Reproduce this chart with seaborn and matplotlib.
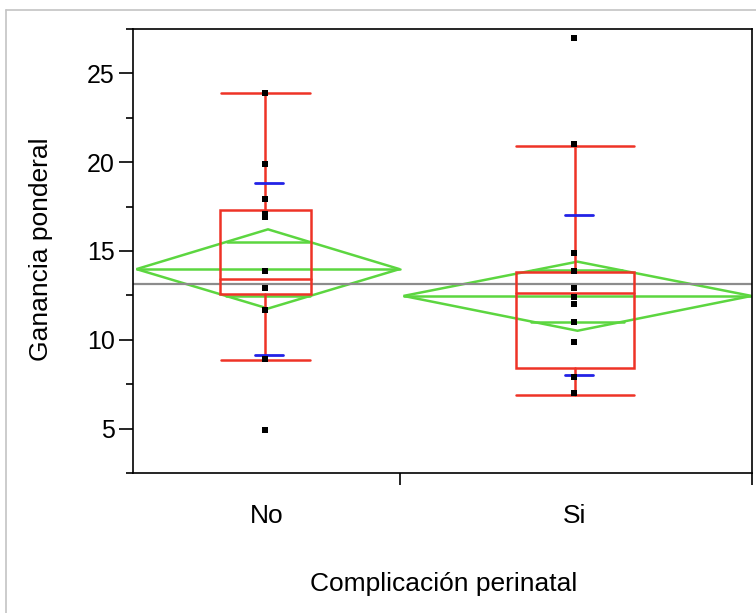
import numpy as np
import pandas as pd
import seaborn as sns
import matplotlib.pyplot as plt
from matplotlib.lines import Line2D
from matplotlib.patches import Rectangle, Polygon
from matplotlib.ticker import MultipleLocator

# ---- data -------------------------------------------------------------
groups = ["No", "Si"]
values_no = [23.9, 19.9, 17.9, 17.1, 16.9, 13.9, 12.9, 11.7, 8.9, 4.9]
values_si = [27.0, 21.0, 14.9, 13.9, 12.9, 12.4, 12.0, 11.0, 9.9, 7.9, 7.0]

group_means = [13.98, 12.47]
diamond_lo = [11.76, 10.51]     # 95% CI of the mean
diamond_hi = [16.22, 14.40]
overlap_lo = [12.47, 11.03]     # overlap marks
overlap_hi = [15.52, 13.91]
box_q1 = [12.58, 8.44]
box_median = [13.41, 12.62]
box_q3 = [17.30, 13.84]
whisker_lo = [8.86, 6.91]
whisker_hi = [23.88, 20.93]
sd_lo = [9.12, 8.00]            # mean -/+ 1 std dev
sd_hi = [18.84, 17.04]
grand_mean = 13.15

# ---- style / layout ---------------------------------------------------
RED = "#EE3326"
GREEN = "#5CD640"
BLUE = "#2222E6"
GRAY = "#8C8C8C"
LW = 1.8

group_edges = [0.0, 267.0, 619.0]   # horizontal span of each group (axis units)
BOX_FRAC = 0.338
SD_HALF = 14.0

sns.set_theme(style="white")
plt.rcParams["font.family"] = ["Liberation Sans", "DejaVu Sans"]
plt.rcParams.update({
    "text.color": "black",
    "axes.labelcolor": "black",
    "xtick.color": "black",
    "ytick.color": "black",
})

fig = plt.figure(figsize=(7.56, 6.13), dpi=100)
ax = fig.add_axes([133 / 756, 1 - 473 / 613, 619 / 756, 444 / 613])
ax.set_xlim(group_edges[0], group_edges[-1])
ax.set_ylim(2.5, 27.5)

points = pd.DataFrame({
    "grupo": ["No"] * len(values_no) + ["Si"] * len(values_si),
    "ganancia": values_no + values_si,
})

centers = []
for i, g in enumerate(groups):
    lo_edge = group_edges[i] + 3.5
    hi_edge = group_edges[i + 1] - 0.5
    c = (lo_edge + hi_edge) / 2
    half_w = (hi_edge - lo_edge) / 2
    centers.append(c)
    m = group_means[i]

    # means diamond
    diamond = Polygon([[lo_edge, m], [c, diamond_hi[i]], [hi_edge, m], [c, diamond_lo[i]]],
                      closed=True, fill=False, edgecolor=GREEN, lw=LW, zorder=2)
    ax.add_patch(diamond)
    ax.plot([lo_edge, hi_edge], [m, m], color=GREEN, lw=LW, zorder=2)
    for y, top in ((overlap_hi[i], diamond_hi[i]), (overlap_lo[i], diamond_lo[i])):
        hw = half_w * (1 - abs(y - m) / abs(top - m))
        ax.plot([c - hw, c + hw], [y, y], color=GREEN, lw=LW, zorder=2)

    # box plot
    gw = group_edges[i + 1] - group_edges[i]
    bw = BOX_FRAC * gw
    bx = c - 2.5
    ax.add_patch(Rectangle((bx - bw / 2, box_q1[i]), bw, box_q3[i] - box_q1[i],
                           fill=False, edgecolor=RED, lw=LW, zorder=3))
    ax.plot([bx - bw / 2, bx + bw / 2], [box_median[i]] * 2, color=RED, lw=LW, zorder=3)
    wx = c - 3
    ax.plot([wx, wx], [box_q3[i], whisker_hi[i]], color=RED, lw=LW, zorder=3)
    ax.plot([wx, wx], [whisker_lo[i], box_q1[i]], color=RED, lw=LW, zorder=3)
    cw = bw - 1.5
    for y in (whisker_lo[i], whisker_hi[i]):
        ax.plot([bx - cw / 2, bx + cw / 2], [y, y], color=RED, lw=LW, zorder=3)

    # std dev marks
    for y in (sd_lo[i], sd_hi[i]):
        ax.plot([c + 1 - SD_HALF, c + 1 + SD_HALF], [y, y], color=BLUE, lw=2.0, zorder=4)

# grand mean
ax.axhline(grand_mean, color=GRAY, lw=1.6, zorder=2.5)

# observations
point_x = {g: centers[i] - 3.5 for i, g in enumerate(groups)}
points["x"] = points["grupo"].map(point_x)
sns.scatterplot(data=points, x="x", y="ganancia", marker="s", s=16, color="black",
                linewidth=0, ax=ax, zorder=5, legend=False)

# ---- axes -------------------------------------------------------------
for sp in ax.spines.values():
    sp.set_visible(True)
    sp.set_color("black")
    sp.set_linewidth(1.2)

ax.yaxis.set_major_locator(MultipleLocator(5))
ax.yaxis.set_minor_locator(MultipleLocator(2.5))
ax.tick_params(axis="y", which="major", direction="out", length=10, width=1.2,
               color="black", labelsize=18, pad=3, left=True)
ax.tick_params(axis="y", which="minor", direction="out", length=5, width=1.2,
               color="black", left=True)

ax.set_xticks(group_edges[1:])
ax.set_xticklabels([])
ax.tick_params(axis="x", which="major", direction="out", length=8.5, width=1.2,
               color="black", bottom=True)
ax.set_xticks([centers[0] - 1.5, centers[1] - 3], minor=True)
ax.set_xticklabels(groups, minor=True)
ax.tick_params(axis="x", which="minor", length=0, labelsize=19, pad=22)

ax.set_xlabel("Complicación perinatal", fontsize=19)
ax.set_ylabel("Ganancia ponderal", fontsize=19)
ax.xaxis.set_label_coords(0.5024, -0.222)
ax.yaxis.set_label_coords(-0.129, 0.5045)
ax.grid(False)

# outer report frame
fig.add_artist(Line2D([6 / 756, 1.0], [1 - 10 / 613] * 2, transform=fig.transFigure,
                      color="#C4C4C4", lw=1.2))
fig.add_artist(Line2D([6 / 756] * 2, [0.0, 1 - 10 / 613], transform=fig.transFigure,
                      color="#C4C4C4", lw=1.2))

fig.savefig("out.png", dpi=100)
